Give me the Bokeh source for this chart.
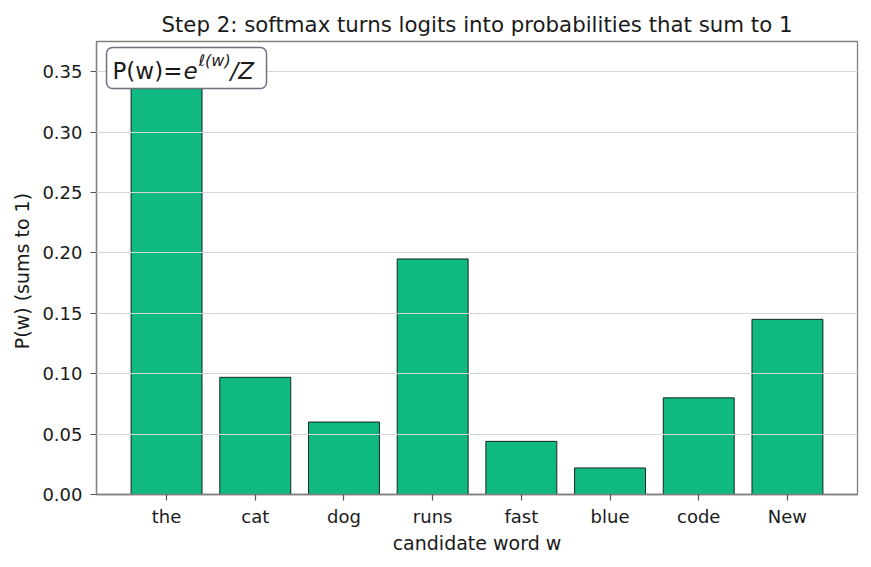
from bokeh.plotting import figure
from bokeh.models import FactorRange, Range1d, BoxAnnotation, Label, NumeralTickFormatter, FixedTicker
from bokeh.embed import file_html
from bokeh.resources import INLINE

# ---- data ----
words = ["the", "cat", "dog", "runs", "fast", "blue", "code", "New"]
probs = [0.357, 0.097, 0.060, 0.195, 0.044, 0.022, 0.080, 0.145]
y_ticks = [0.00, 0.05, 0.10, 0.15, 0.20, 0.25, 0.30, 0.35]

title_text = "Step 2: softmax turns logits into probabilities that sum to 1"
x_label = "candidate word w"
y_label = "P(w)  (sums to 1)"

FONT = "DejaVu Sans"
TXT = "#1a1a1a"
GRAY = "#808080"

p = figure(width=871, height=567,
           x_range=FactorRange(*words, range_padding=0.0725, range_padding_units="percent"),
           y_range=Range1d(0, 0.375),
           output_backend="svg", toolbar_location=None,
           min_border_left=96, min_border_right=14, min_border_top=41, min_border_bottom=73,
           title=title_text)

p.title.text_font = FONT
p.title.text_font_size = "21.3px"
p.title.text_font_style = "normal"
p.title.text_color = TXT
p.title.align = "center"

p.vbar(x=words, top=probs, width=0.8, fill_color="#10b981", line_color="#111111", line_width=0.9)

p.outline_line_color = GRAY
p.outline_line_width = 1.3
p.background_fill_color = "white"
p.border_fill_color = "white"

p.xgrid.visible = False
p.ygrid.grid_line_color = "#d6d6d6"
p.ygrid.grid_line_width = 1
p.ygrid.level = "overlay"
p.yaxis.ticker = FixedTicker(ticks=y_ticks)
p.yaxis.formatter = NumeralTickFormatter(format="0.00")

for ax in (p.xaxis[0], p.yaxis[0]):
    ax.axis_line_color = GRAY
    ax.axis_line_width = 1.3
    ax.major_tick_line_color = "#555555"
    ax.major_tick_line_width = 1.2
    ax.major_tick_in = 0
    ax.major_tick_out = 6
    ax.minor_tick_line_color = None
    ax.major_label_text_font = FONT
    ax.major_label_text_font_size = "18px"
    ax.major_label_text_color = TXT
    ax.axis_label_text_font = FONT
    ax.axis_label_text_font_size = "19px"
    ax.axis_label_text_font_style = "normal"
    ax.axis_label_text_color = TXT

p.xaxis.axis_label = x_label
p.yaxis.axis_label = y_label
p.xaxis.major_label_standoff = 5
p.yaxis.major_label_standoff = 8
p.xaxis.axis_label_standoff = 2
p.yaxis.axis_label_standoff = 6

# formula box (canvas px -> frame-relative screen coords)
FL, FB = 96, 494
box = BoxAnnotation(left=106 - FL, right=266 - FL, top=FB - 47, bottom=FB - 88,
                    left_units="screen", right_units="screen", top_units="screen", bottom_units="screen",
                    fill_color="white", fill_alpha=1.0, line_color="#6b7280", line_alpha=1.0,
                    line_width=1.5, border_radius=6, level="overlay")
p.add_layout(box)

def lab(text, X, Y, size, style):
    p.add_layout(Label(x=X - FL, y=FB - Y, x_units="screen", y_units="screen", text=text,
                       text_font=FONT, text_font_size=size, text_font_style=style,
                       text_color=TXT, text_baseline="alphabetic", text_align="left",
                       level="overlay"))

lab("P(w)=", 112, 70, "23px", "normal")
lab("e", 183, 70, "23px", "italic")
lab("ℓ(w)", 198, 60, "16px", "italic")
lab("/Z", 230, 70, "23px", "italic")

open("out.html", "w").write(file_html(p, INLINE))
